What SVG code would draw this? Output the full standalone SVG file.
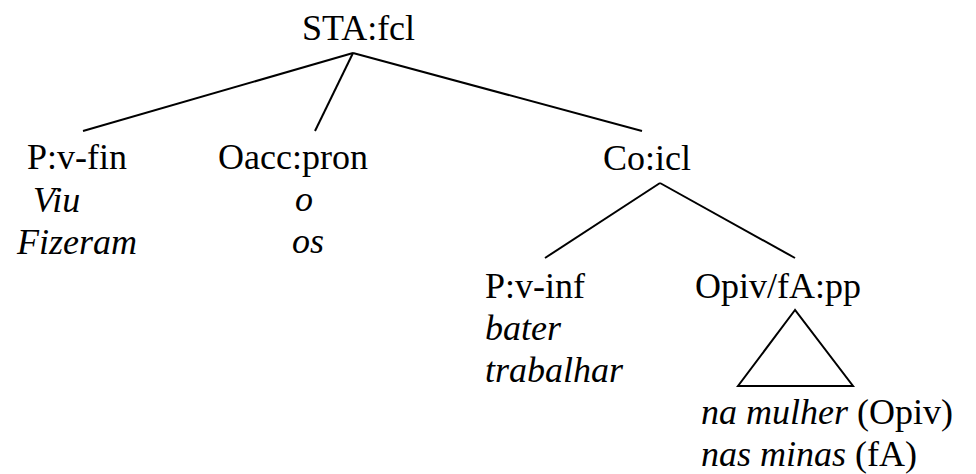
<svg xmlns="http://www.w3.org/2000/svg" width="976" height="474" viewBox="0 0 976 474">
<style>
.edge { stroke: #000; stroke-width: 2; fill: none; }
text { font-family: 'Liberation Serif', 'Times New Roman', Times, 'DejaVu Serif', 'Noto Serif', serif; font-size: 36px; fill: #000; }
.it { font-style: italic; }
</style>
<rect width="976" height="474" fill="#fff"/>
<g id="connectors">
  <line class="edge" x1="353" y1="53" x2="83" y2="131"/>
  <line class="edge" x1="353" y1="53" x2="315" y2="131"/>
  <line class="edge" x1="353" y1="53" x2="642" y2="131"/>
  <line class="edge" x1="660" y1="183" x2="545" y2="258"/>
  <line class="edge" x1="660" y1="183" x2="795" y2="258"/>
  <polygon class="edge" points="795,310 738,386 853,386"/>
</g>
<g id="node-sta"><text x="302" y="40">STA:fcl</text></g>
<g id="node-p-vfin">
  <text x="27" y="169">P:v-fin</text>
  <text class="it" x="33" y="212">Viu</text>
  <text class="it" x="17" y="254">Fizeram</text>
</g>
<g id="node-oacc">
  <text x="218" y="169">Oacc:pron</text>
  <text class="it" x="295" y="211">o</text>
  <text class="it" x="292" y="253">os</text>
</g>
<g id="node-co"><text x="603" y="170">Co:icl</text></g>
<g id="node-p-vinf">
  <text x="485" y="298">P:v-inf</text>
  <text class="it" x="485" y="340">bater</text>
  <text class="it" x="485" y="382">trabalhar</text>
</g>
<g id="node-opiv">
  <text x="695" y="298">Opiv/fA:pp</text>
  <text x="701" y="424"><tspan class="it">na mulher</tspan> (Opiv)</text>
  <text x="701" y="466"><tspan class="it">nas minas</tspan> (fA)</text>
</g>
</svg>
